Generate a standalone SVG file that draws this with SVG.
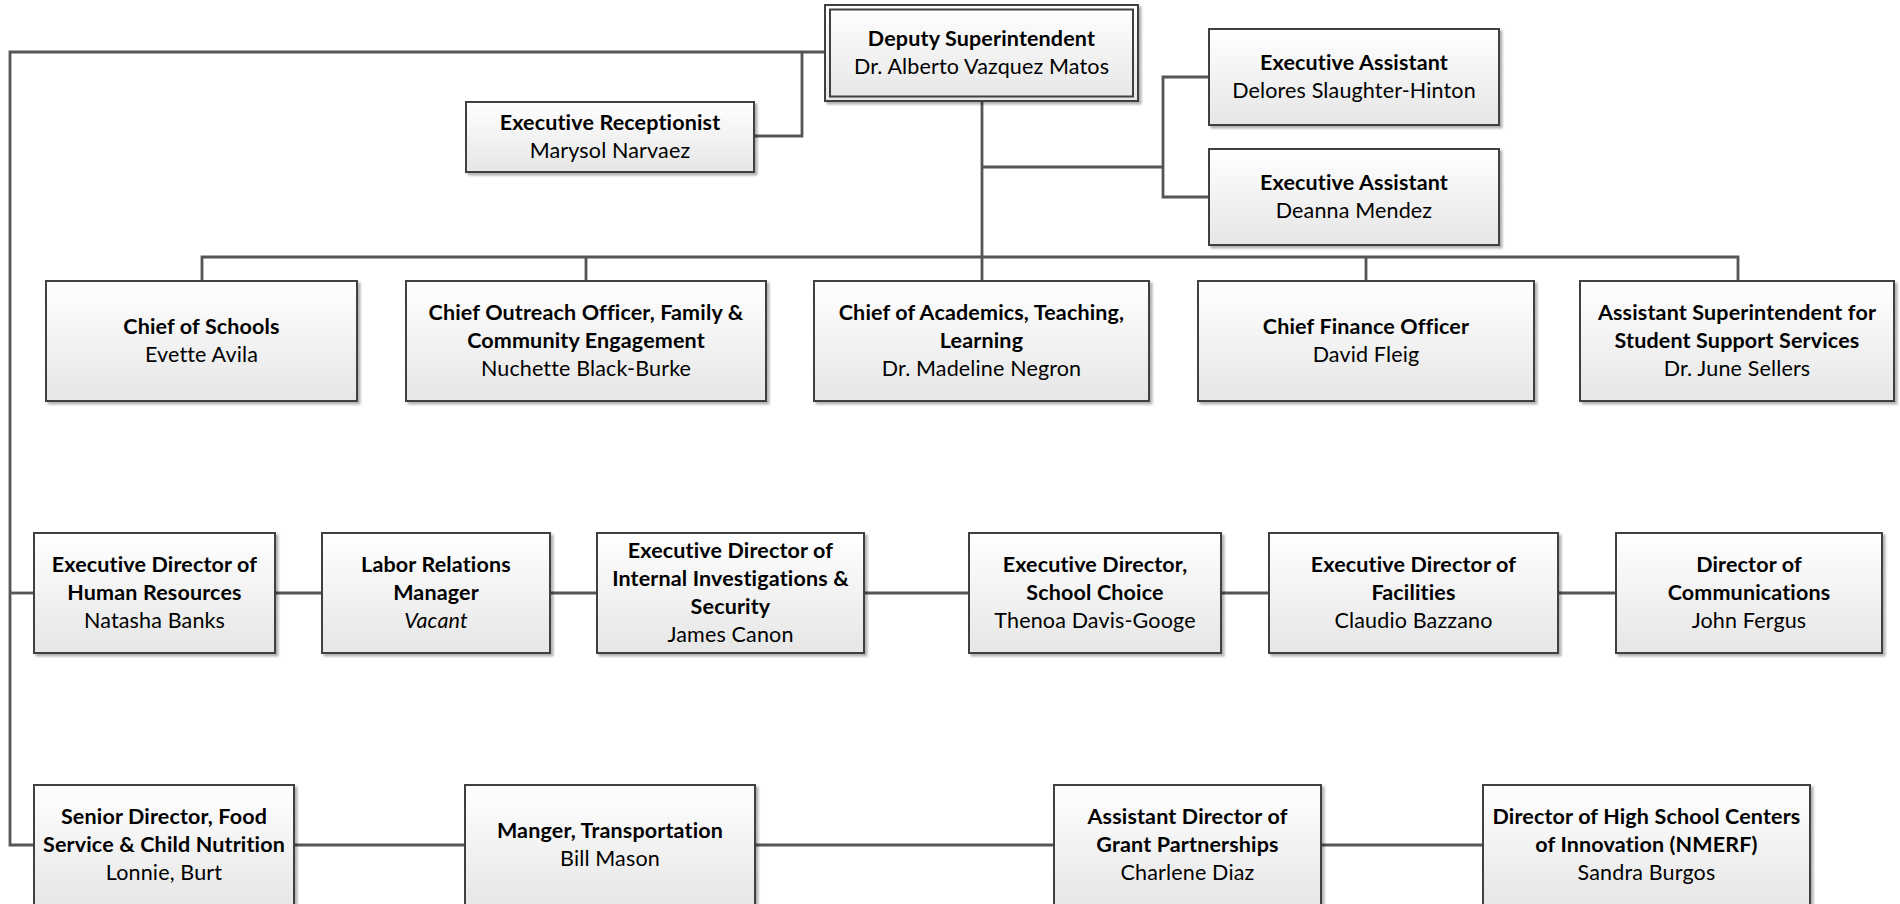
<svg xmlns="http://www.w3.org/2000/svg" width="1900" height="904" viewBox="0 0 1900 904">
<defs>
<linearGradient id="g" x1="0" y1="0" x2="0" y2="1">
<stop offset="0" stop-color="#ffffff"/>
<stop offset="1" stop-color="#e6e6e6"/>
</linearGradient>
<filter id="sh" x="-5%" y="-5%" width="115%" height="120%">
<feDropShadow dx="2.5" dy="2.5" stdDeviation="1.2" flood-color="#000" flood-opacity="0.3"/>
</filter>
</defs>
<style>
.box{fill:url(#g);stroke:#404040;stroke-width:2;filter:url(#sh)}
.in{fill:none;stroke:#404040;stroke-width:2}
.c{fill:none;stroke:#555555;stroke-width:2.8}
text{font-family:Lato,"Liberation Sans",sans-serif;font-size:21.5px;letter-spacing:0.15px;fill:#000;text-anchor:middle}
.b{font-weight:bold}
.i{font-style:italic}
</style>
<rect width="1900" height="904" fill="#fff"/>
<g id="connectors">
<path class="c" d="M825,52 H10 V845 H34"/>
<path class="c" d="M10,593 H34"/>
<path class="c" d="M802,52 V136 H754"/>
<path class="c" d="M982,101 V281"/>
<path class="c" d="M202,281 V257 H1738 V281"/>
<path class="c" d="M586,257 V281"/>
<path class="c" d="M1366,257 V281"/>
<path class="c" d="M982,167 H1163"/>
<path class="c" d="M1209,77 H1163 V197 H1209"/>
<path class="c" d="M275,593 H322 M550,593 H597 M864,593 H969 M1221,593 H1269 M1558,593 H1616"/>
<path class="c" d="M294,845 H465 M755,845 H1054 M1321,845 H1483"/>
</g>
<g id="deputy">
<rect class="box" x="825" y="5" width="313" height="96"/>
<rect class="in" x="830" y="9.5" width="303" height="87"/>
<text class="b" x="981.5" y="46">Deputy Superintendent</text>
<text x="981.5" y="74">Dr. Alberto Vazquez Matos</text>
</g>
<g id="receptionist">
<rect class="box" x="466" y="102" width="288" height="70"/>
<text class="b" x="610" y="130">Executive Receptionist</text>
<text x="610" y="158">Marysol Narvaez</text>
</g>
<g id="ea1">
<rect class="box" x="1209" y="29" width="290" height="96"/>
<text class="b" x="1354" y="70">Executive Assistant</text>
<text x="1354" y="98">Delores Slaughter-Hinton</text>
</g>
<g id="ea2">
<rect class="box" x="1209" y="149" width="290" height="96"/>
<text class="b" x="1354" y="190">Executive Assistant</text>
<text x="1354" y="218">Deanna Mendez</text>
</g>
<g id="chief-schools">
<rect class="box" x="46" y="281" width="311" height="120"/>
<text class="b" x="201.5" y="334">Chief of Schools</text>
<text x="201.5" y="362">Evette Avila</text>
</g>
<g id="chief-outreach">
<rect class="box" x="406" y="281" width="360" height="120"/>
<text class="b" x="586" y="320">Chief Outreach Officer, Family &amp;</text>
<text class="b" x="586" y="348">Community Engagement</text>
<text x="586" y="376">Nuchette Black-Burke</text>
</g>
<g id="chief-academics">
<rect class="box" x="814" y="281" width="335" height="120"/>
<text class="b" x="981.5" y="320">Chief of Academics, Teaching,</text>
<text class="b" x="981.5" y="348">Learning</text>
<text x="981.5" y="376">Dr. Madeline Negron</text>
</g>
<g id="cfo">
<rect class="box" x="1198" y="281" width="336" height="120"/>
<text class="b" x="1366" y="334">Chief Finance Officer</text>
<text x="1366" y="362">David Fleig</text>
</g>
<g id="asst-sup">
<rect class="box" x="1580" y="281" width="314" height="120"/>
<text class="b" x="1737" y="320">Assistant Superintendent for</text>
<text class="b" x="1737" y="348">Student Support Services</text>
<text x="1737" y="376">Dr. June Sellers</text>
</g>
<g id="hr">
<rect class="box" x="34" y="533" width="241" height="120"/>
<text class="b" x="154.5" y="572">Executive Director of</text>
<text class="b" x="154.5" y="600">Human Resources</text>
<text x="154.5" y="628">Natasha Banks</text>
</g>
<g id="labor">
<rect class="box" x="322" y="533" width="228" height="120"/>
<text class="b" x="436" y="572">Labor Relations</text>
<text class="b" x="436" y="600">Manager</text>
<text class="i" x="436" y="628">Vacant</text>
</g>
<g id="internal">
<rect class="box" x="597" y="533" width="267" height="120"/>
<text class="b" x="730.5" y="558">Executive Director of</text>
<text class="b" x="730.5" y="586">Internal Investigations &amp;</text>
<text class="b" x="730.5" y="614">Security</text>
<text x="730.5" y="642">James Canon</text>
</g>
<g id="school-choice">
<rect class="box" x="969" y="533" width="252" height="120"/>
<text class="b" x="1095" y="572">Executive Director,</text>
<text class="b" x="1095" y="600">School Choice</text>
<text x="1095" y="628">Thenoa Davis-Googe</text>
</g>
<g id="facilities">
<rect class="box" x="1269" y="533" width="289" height="120"/>
<text class="b" x="1413.5" y="572">Executive Director of</text>
<text class="b" x="1413.5" y="600">Facilities</text>
<text x="1413.5" y="628">Claudio Bazzano</text>
</g>
<g id="communications">
<rect class="box" x="1616" y="533" width="266" height="120"/>
<text class="b" x="1749" y="572">Director of</text>
<text class="b" x="1749" y="600">Communications</text>
<text x="1749" y="628">John Fergus</text>
</g>
<g id="food-service">
<rect class="box" x="34" y="785" width="260" height="122"/>
<text class="b" x="164" y="824">Senior Director, Food</text>
<text class="b" x="164" y="852">Service &amp; Child Nutrition</text>
<text x="164" y="880">Lonnie, Burt</text>
</g>
<g id="transportation">
<rect class="box" x="465" y="785" width="290" height="122"/>
<text class="b" x="610" y="838">Manger, Transportation</text>
<text x="610" y="866">Bill Mason</text>
</g>
<g id="grants">
<rect class="box" x="1054" y="785" width="267" height="122"/>
<text class="b" x="1187.5" y="824">Assistant Director of</text>
<text class="b" x="1187.5" y="852">Grant Partnerships</text>
<text x="1187.5" y="880">Charlene Diaz</text>
</g>
<g id="hs-centers">
<rect class="box" x="1483" y="785" width="327" height="122"/>
<text class="b" x="1646.5" y="824">Director of High School Centers</text>
<text class="b" x="1646.5" y="852">of Innovation (NMERF)</text>
<text x="1646.5" y="880">Sandra Burgos</text>
</g>
</svg>
